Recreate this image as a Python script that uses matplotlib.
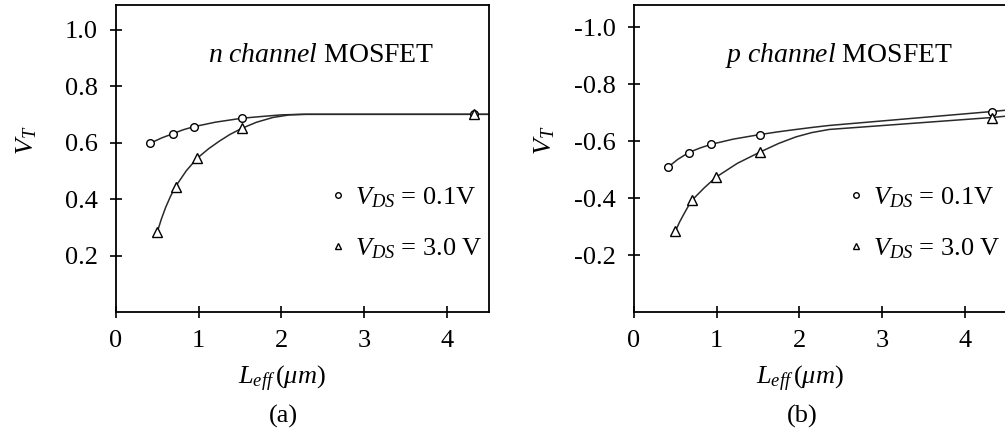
import matplotlib
matplotlib.use('Agg')
import matplotlib.pyplot as plt
from matplotlib.lines import Line2D
from matplotlib.ticker import FuncFormatter

plt.rcParams['font.family'] = ['Liberation Serif', 'DejaVu Serif']
plt.rcParams['mathtext.fontset'] = 'custom'
plt.rcParams['mathtext.rm'] = 'Liberation Serif'
plt.rcParams['mathtext.it'] = 'Liberation Serif:italic'

# measured points, L_eff in um, V_T in V
n_L_low = [0.41, 0.685, 0.94, 1.52, 4.33]
n_VT_low = [0.597, 0.631, 0.656, 0.686, 0.700]
n_L_high = [0.50, 0.72, 0.98, 1.52, 4.33]
n_VT_high = [0.284, 0.444, 0.544, 0.650, 0.700]

p_L_low = [0.41, 0.663, 0.936, 1.52, 4.33]
p_VT_low = [-0.508, -0.560, -0.589, -0.623, -0.704]
p_L_high = [0.50, 0.70, 0.99, 1.52, 4.33]
p_VT_high = [-0.283, -0.392, -0.473, -0.561, -0.683]

# fitted curves through the measurements
n_fit_L_low = [0.41, 0.55, 0.685, 0.81, 0.94, 1.2, 1.52, 1.75, 2.0, 2.25, 4.51]
n_fit_VT_low = [0.597, 0.616, 0.631, 0.645, 0.656, 0.672, 0.686, 0.692, 0.698, 0.700, 0.700]
n_fit_L_high = [0.50, 0.55, 0.60, 0.66, 0.72, 0.85, 0.98, 1.12, 1.25, 1.38, 1.52,
                1.7, 1.9, 2.1, 2.3, 4.51]
n_fit_VT_high = [0.284, 0.330, 0.370, 0.410, 0.444, 0.500, 0.544, 0.578, 0.605, 0.629, 0.650,
                 0.672, 0.689, 0.698, 0.700, 0.700]

p_fit_L_low = [0.41, 0.53, 0.663, 0.80, 0.936, 1.2, 1.52, 1.75, 1.96, 2.15, 2.36, 4.33, 4.51]
p_fit_VT_low = [-0.508, -0.536, -0.560, -0.576, -0.589, -0.607, -0.623, -0.633, -0.641,
                -0.648, -0.655, -0.704, -0.709]
p_fit_L_high = [0.50, 0.55, 0.60, 0.65, 0.70, 0.85, 0.99, 1.25, 1.52, 1.75, 1.96, 2.15,
                2.36, 4.33, 4.51]
p_fit_VT_high = [-0.283, -0.315, -0.342, -0.368, -0.392, -0.436, -0.473, -0.522, -0.561,
                 -0.592, -0.615, -0.630, -0.641, -0.683, -0.688]

labels = [r'$V_{DS}$ = 0.1V', r'$V_{DS}$ = 3.0 V']

fig = plt.figure(figsize=(10.05, 4.36), dpi=100)
ax_n = fig.add_axes([0.1154, 0.2844, 0.3711, 0.7041])
ax_p = fig.add_axes([0.6308, 0.2844, 0.3711, 0.7041])

panels = [
    (ax_n, n_fit_L_low, n_fit_VT_low, n_fit_L_high, n_fit_VT_high,
     n_L_low, n_VT_low, n_L_high, n_VT_high, r'$\mathit{n\ channel}$ MOSFET', '(a)'),
    (ax_p, p_fit_L_low, p_fit_VT_low, p_fit_L_high, p_fit_VT_high,
     p_L_low, p_VT_low, p_L_high, p_VT_high, r'$\mathit{p\ channel}$ MOSFET', '(b)'),
]

for ax, fxl, fyl, fxh, fyh, xl, yl, xh, yh, title, tag in panels:
    ax.plot(fxl, fyl, color='#2a2a2a', lw=1.1, zorder=2)
    ax.plot(fxh, fyh, color='#2a2a2a', lw=1.1, zorder=2)
    ax.plot(xl, yl, ls='none', marker='o', ms=5.5, mfc='white', mec='black', mew=1.0, zorder=3)
    ax.plot(xh, yh, ls='none', marker='^', ms=7.5, mfc='white', mec='black', mew=1.0, zorder=3)

    ax.set_xlim(0, 4.51)
    ax.set_xticks([0, 1, 2, 3, 4])
    ax.tick_params(direction='inout', length=8, width=1.2, labelsize=19, pad=9)
    for s in ax.spines.values():
        s.set_linewidth(1.3)

    ax.text(0.55, 0.835, title, transform=ax.transAxes, ha='center', va='center', fontsize=20)
    ax.set_xlabel(r'$L_{eff}\,(\mu m)$', fontsize=19)
    ax.xaxis.set_label_coords(0.445, -0.17)
    ax.set_ylabel(r'$V_T$', fontsize=19)
    ax.yaxis.set_label_coords(-0.207, 0.56)
    ax.text(0.45, -0.34, tag, transform=ax.transAxes, ha='center', va='center', fontsize=19)

    handles = [
        Line2D([], [], ls='none', marker='o', ms=4, mfc='white', mec='black', mew=1.0),
        Line2D([], [], ls='none', marker='^', ms=5, mfc='white', mec='black', mew=1.0),
    ]
    ax.legend(handles, labels, loc='center left', bbox_to_anchor=(0.525, 0.29),
              frameon=False, fontsize=19, handlelength=1.0, handletextpad=0.15,
              labelspacing=1.0, borderpad=0)

ax_n.set_ylim(0, 1.087)
ax_n.set_yticks([0.2, 0.4, 0.6, 0.8, 1.0])
ax_p.set_ylim(0, -1.078)
ax_p.set_yticks([-0.2, -0.4, -0.6, -0.8, -1.0])

fmt = FuncFormatter(lambda v, pos: f'{v:.1f}')
ax_n.yaxis.set_major_formatter(fmt)
ax_p.yaxis.set_major_formatter(fmt)

fig.savefig('out.png', dpi=100)
